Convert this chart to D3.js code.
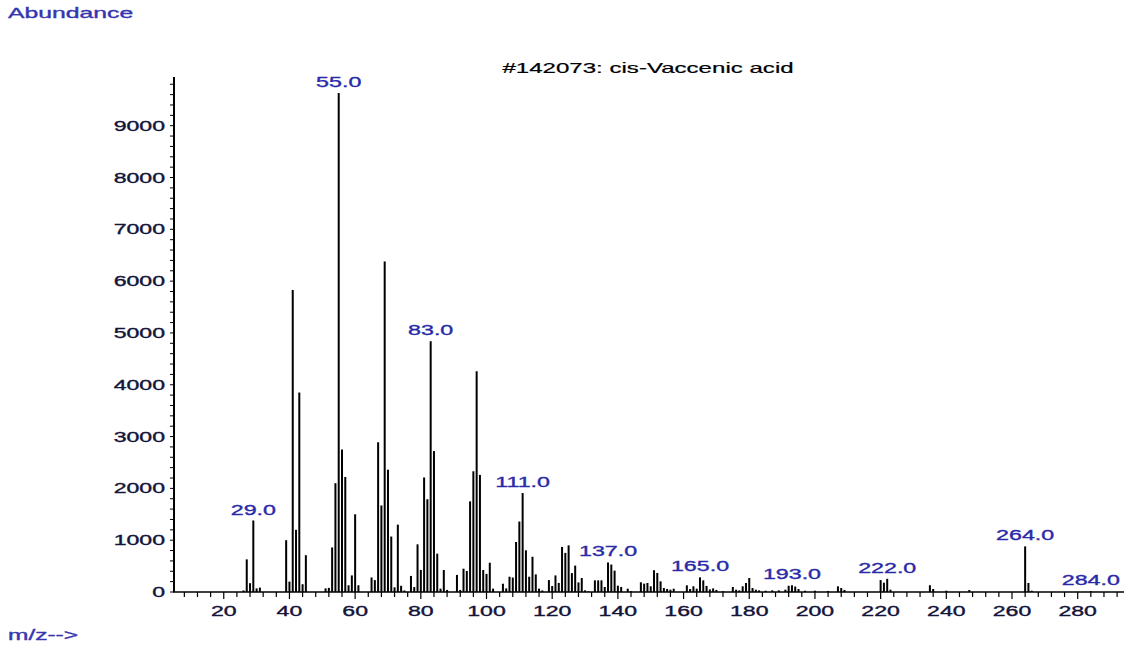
<!DOCTYPE html>
<html>
<head>
<meta charset="utf-8">
<script src="https://cdn.jsdelivr.net/npm/d3@7"></script>
<style>
  body { margin: 0; background: #fff; }
  svg { display: block; font-family: "Liberation Sans", Arial, sans-serif; }
</style>
</head>
<body>
<svg id="chart" width="1135" height="649"></svg>
<script>
// spectrum data
var mzValues = [26, 27, 28, 29, 30, 31, 39, 40, 41, 42, 43, 44, 45, 51, 52, 53, 54, 55, 56, 57, 58, 59, 60, 61,
    65, 66, 67, 68, 69, 70, 71, 72, 73, 74, 75, 77, 78, 79, 80, 81, 82, 83, 84, 85, 86, 87, 88,
    91, 92, 93, 94, 95, 96, 97, 98, 99, 100, 101, 102, 105, 106, 107, 108, 109, 110, 111, 112, 113, 114, 115, 116, 117,
    119, 120, 121, 122, 123, 124, 125, 126, 127, 128, 129, 130, 131, 133, 134, 135, 136, 137, 138, 139, 140, 141, 143, 144,
    147, 148, 149, 150, 151, 152, 153, 154, 155, 156, 157, 161, 162, 163, 164, 165, 166, 167, 168, 169, 170, 172,
    175, 176, 177, 178, 179, 180, 181, 182, 183, 185, 187, 189, 191, 192, 193, 194, 195, 197, 200, 204,
    207, 208, 209, 220, 221, 222, 223, 235, 236, 240, 247, 264, 265, 266, 284];
var abundance = [30, 630, 170, 1380, 70, 85, 1000, 200, 5830, 1200, 3850, 150, 710, 70, 80, 860, 2100, 9630, 2750, 2220, 130, 320, 1500, 130,
    280, 230, 2890, 1670, 6380, 2360, 1070, 90, 1300, 120, 30, 310, 95, 920, 425, 2210, 1790, 4840, 2720, 740, 65, 425, 40,
    330, 40, 450, 405, 1750, 2330, 4260, 2260, 425, 350, 565, 65, 160, 70, 295, 280, 965, 1360, 1910, 805, 295, 680, 340, 65, 30,
    230, 115, 320, 175, 870, 755, 900, 365, 510, 185, 270, 32, 13, 225, 225, 225, 97, 570, 530, 412, 122, 97, 64, 15,
    187, 161, 174, 110, 420, 367, 206, 77, 58, 45, 64, 129, 58, 110, 64, 283, 225, 118, 50, 70, 40, 15,
    97, 45, 32, 110, 174, 270, 77, 45, 32, 25, 32, 32, 45, 120, 130, 105, 58, 25, 25, 20,
    110, 77, 40, 230, 180, 255, 45, 130, 58, 25, 38, 880, 174, 25, 15];
var peakLabels = [29, 55, 83, 111, 137, 165, 193, 222, 264, 284];
var xLabels = [20, 40, 60, 80, 100, 120, 140, 160, 180, 200, 220, 240, 260, 280];
var yLabels = [0, 1000, 2000, 3000, 4000, 5000, 6000, 7000, 8000, 9000];

var data = mzValues.map(function(m, i) { return {mz: m, v: abundance[i]}; });

var svg = d3.select("#chart");

var x = d3.scaleLinear().domain([4.85, 294.1]).range([174, 1124]);
var y = d3.scaleLinear().domain([0, 9940]).range([592, 77]);

// stretched text, like the original screenshot
function stretchText(g, px, py, txt, opts) {
    return g.append("text")
        .attr("transform", "translate(" + px + "," + py + ") scale(" + (opts.sx || 1.6) + ",1)")
        .attr("text-anchor", opts.anchor || "start")
        .attr("font-size", opts.size || 14)
        .attr("fill", opts.fill || "#000")
        .attr("stroke", opts.fill || "#000")
        .attr("stroke-width", opts.sw || 0.35)
        .text(txt);
}

stretchText(svg, 8, 18, "Abundance", {size: 15, fill: "#3535b0", sx: 1.65});
stretchText(svg, 8, 640, "m/z-->", {size: 14, fill: "#3535b0", sx: 1.75});
stretchText(svg, 648, 73, "#142073: cis-Vaccenic acid", {size: 14, anchor: "middle", sx: 1.72, sw: 0.2});

// bars
svg.append("g")
    .selectAll("rect")
    .data(data)
    .enter().append("rect")
    .attr("x", function(d) { return x(d.mz) - 1; })
    .attr("width", 2)
    .attr("y", function(d) { return y(d.v); })
    .attr("height", function(d) { return y(0) - y(d.v); })
    .attr("fill", "#000");

// y axis
var yTicks = d3.range(0, 9801, 200);
var ya = svg.append("g");
ya.append("line")
    .attr("x1", x(4.85)).attr("x2", x(4.85))
    .attr("y1", y(0)).attr("y2", y(9940))
    .attr("stroke", "#000").attr("stroke-width", 2);
ya.selectAll(".yt")
    .data(yTicks)
    .enter().append("line")
    .attr("x1", x(4.85) - 4).attr("x2", x(4.85))
    .attr("y1", function(d) { return y(d); })
    .attr("y2", function(d) { return y(d); })
    .attr("stroke", "#000").attr("stroke-width", 1);
yLabels.forEach(function(v) {
    stretchText(ya, 165, y(v) + 5, v, {size: 14, anchor: "end", fill: "#14143a", sx: 1.65});
});

// x axis
var xTicks = d3.range(8, 293, 4);
var xa = svg.append("g");
xa.append("line")
    .attr("x1", x(4.85) - 1).attr("x2", x(294.1))
    .attr("y1", y(0)).attr("y2", y(0))
    .attr("stroke", "#000").attr("stroke-width", 1.5);
xa.selectAll(".xt")
    .data(xTicks)
    .enter().append("line")
    .attr("x1", function(d) { return x(d); })
    .attr("x2", function(d) { return x(d); })
    .attr("y1", y(0))
    .attr("y2", function(d) { return y(0) + (d % 20 === 0 ? 7 : 5); })
    .attr("stroke", "#000").attr("stroke-width", 1.2);
xLabels.forEach(function(v) {
    stretchText(xa, x(v), 616, v, {size: 14, anchor: "middle", fill: "#14143a", sx: 1.65});
});

// peak labels
var lookup = {};
data.forEach(function(d) { lookup[d.mz] = d.v; });
peakLabels.forEach(function(m) {
    stretchText(svg, x(m), y(lookup[m]) - 6, m.toFixed(1), {size: 15, anchor: "middle", fill: "#2a2aa8", sx: 1.55});
});
</script>
</body>
</html>
